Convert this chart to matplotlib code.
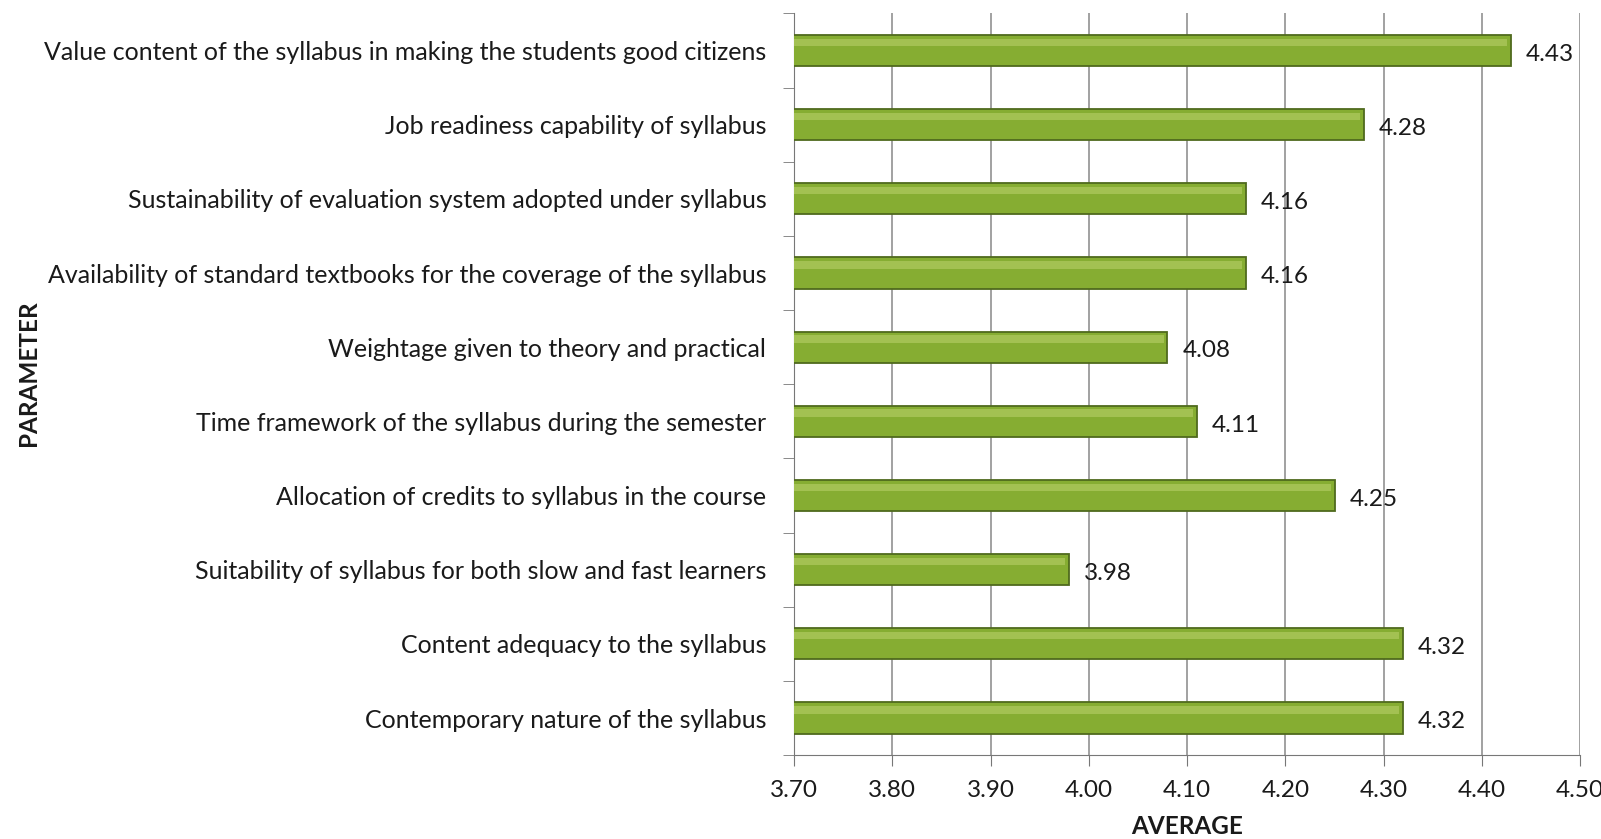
import matplotlib
matplotlib.use("Agg")
import matplotlib.pyplot as plt
import numpy as np

params = [
    "Value content of the syllabus in making the students good citizens",
    "Job readiness capability of syllabus",
    "Sustainability of evaluation system adopted under syllabus",
    "Availability of standard textbooks for the coverage of the syllabus",
    "Weightage given to theory and practical",
    "Time framework of the syllabus during the semester",
    "Allocation of credits to syllabus in the course",
    "Suitability of syllabus for both slow and fast learners",
    "Content adequacy to the syllabus",
    "Contemporary nature of the syllabus",
]
averages = [4.43, 4.28, 4.16, 4.16, 4.08, 4.11, 4.25, 3.98, 4.32, 4.32]
xticks = [3.70, 3.80, 3.90, 4.00, 4.10, 4.20, 4.30, 4.40, 4.50]

plt.rcParams['font.family'] = ['Lato', 'DejaVu Sans']

fig = plt.figure(figsize=(16.01, 8.39), dpi=100)
ax = fig.add_axes([0.496, 0.1, 0.491, 0.884])

n = len(params)
y = np.arange(n)[::-1]
# main bar + softer highlight band near the top edge
ax.barh(y, averages, left=0, height=0.42, color="#86ad32", edgecolor="#4f6a1e", linewidth=1.3, zorder=3)
ax.barh(y + 0.11, np.array(averages) - 0.004, left=0, height=0.1, color="#a3c152", linewidth=0, zorder=4)

for yi, v in zip(y, averages):
    ax.text(v + 0.015, yi - 0.05, f"{v:.2f}", va="center", ha="left", fontsize=17.5, color="#1a1a1a")

ax.set_xlim(3.70, 4.50)
ax.set_ylim(-0.5, n - 0.5)
ax.set_xticks(xticks)
ax.set_xticklabels([f"{t:.2f}" for t in xticks], fontsize=17.5, color="#1a1a1a")
ax.set_yticks(y)
ax.set_yticklabels(params, fontsize=18, color="#1a1a1a")
ax.tick_params(axis="y", length=0, pad=20)
ax.set_yticks(np.arange(n + 1) - 0.5, minor=True)
ax.tick_params(axis="y", which="minor", length=8, color="#777777")
ax.tick_params(axis="x", length=8, color="#777777", pad=10)

ax.grid(axis="x", color="#888888", linewidth=1.1, zorder=0)
for s in ["top", "right"]:
    ax.spines[s].set_visible(False)
ax.spines["left"].set_color("#777777")
ax.spines["bottom"].set_color("#777777")

ax.set_xlabel("AVERAGE", fontsize=17.5, fontweight="bold", labelpad=10, color="#1a1a1a")
fig.text(0.018, 0.555, "PARAMETER", rotation=90, fontsize=17.5, fontweight="bold", va="center", ha="center", color="#1a1a1a")

fig.savefig("out.png", dpi=100)
